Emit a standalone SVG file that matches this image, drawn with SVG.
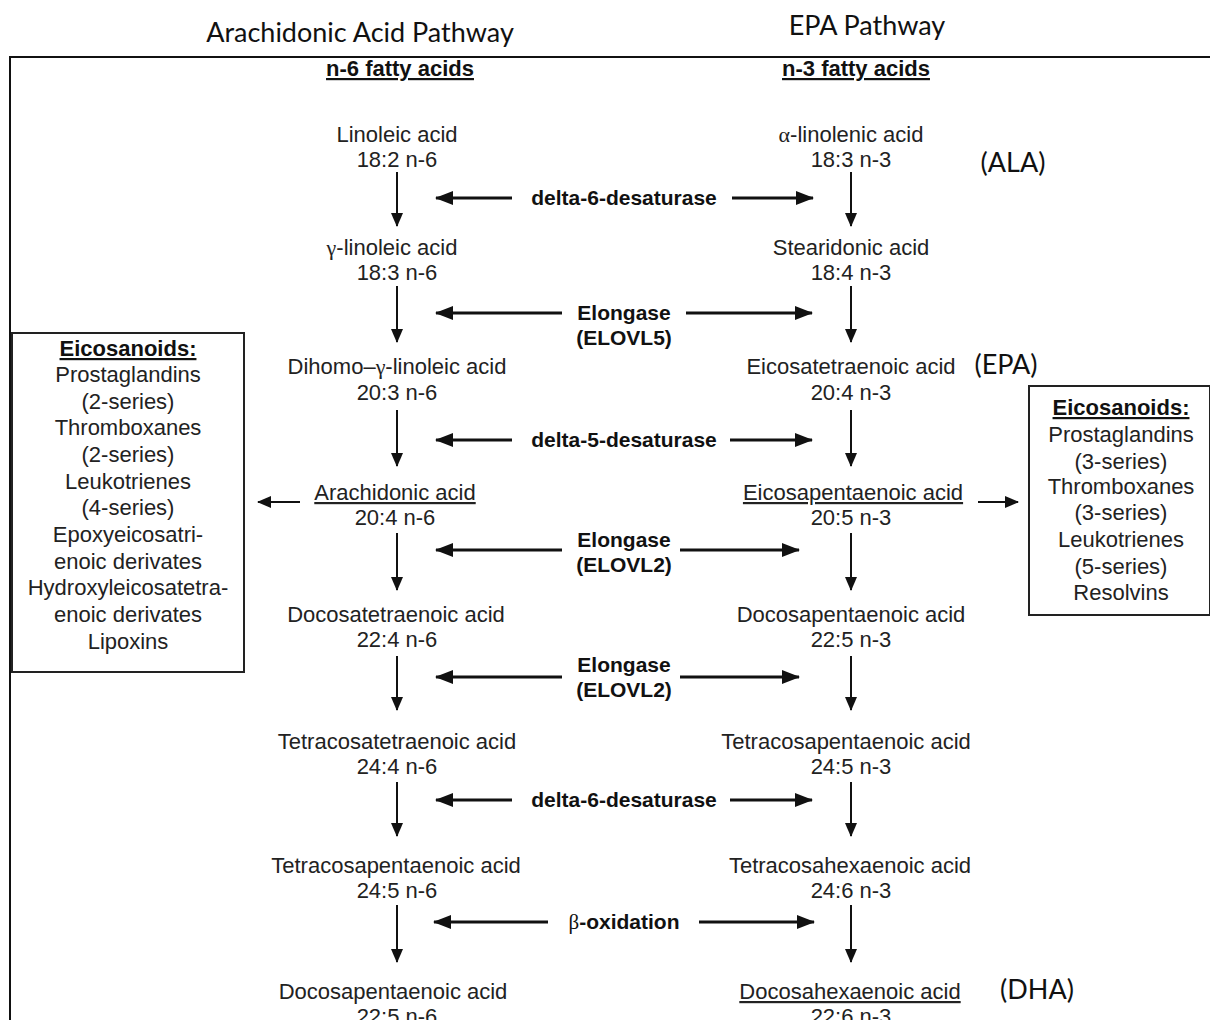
<svg xmlns="http://www.w3.org/2000/svg" width="1210" height="1020" viewBox="0 0 1210 1020">
<style>
.t{font-family:"Liberation Sans",Arial,sans-serif;font-size:22px;fill:#222;text-anchor:middle}
.x{font-family:"Liberation Sans",Arial,sans-serif;font-size:22px;fill:#222;text-anchor:middle}
.b{font-family:"Liberation Sans",Arial,sans-serif;font-size:21px;font-weight:bold;fill:#111;text-anchor:middle}
.bx{font-family:"Liberation Sans",Arial,sans-serif;font-size:22px;font-weight:bold;fill:#111;text-anchor:middle}
.u{text-decoration:underline}
.h{font-family:Lato,"Open Sans",sans-serif;font-size:27px;fill:#111;text-anchor:middle}
.g{font-family:"Liberation Serif",serif}
.v{stroke:#111;stroke-width:2;fill:none}
.e{stroke:#111;stroke-width:3;fill:none}
.frame{stroke:#111;stroke-width:2;fill:none}
.box{stroke:#222;stroke-width:2;fill:#fff}
</style>
<defs>
<marker id="ah" markerUnits="userSpaceOnUse" markerWidth="14" markerHeight="14" refX="13" refY="6" orient="auto"><path d="M0,0 L14,6 L0,12 z" fill="#111"/></marker>
<marker id="ahb" markerUnits="userSpaceOnUse" markerWidth="18" markerHeight="16" refX="17" refY="7" orient="auto"><path d="M0,0 L18,7 L0,14 z" fill="#111"/></marker>
</defs>
<rect width="1210" height="1020" fill="#fff"/>
<g id="frame">
<path class="frame" d="M10,1020 L10,57 L1210,57"/>
</g>
<g id="titles">
<text class="h" x="360" y="42">Arachidonic Acid Pathway</text>
<text class="h" x="867" y="35">EPA Pathway</text>
<text class="bx u" x="400" y="76">n-6 fatty acids</text>
<text class="bx u" x="856" y="76">n-3 fatty acids</text>
</g>
<g id="n6">
<g id="la"><text class="t" x="397" y="142">Linoleic acid</text><text class="t" x="397" y="167">18:2 n-6</text></g>
<g id="gla"><text class="t" x="392" y="255"><tspan class="g">γ</tspan>-linoleic acid</text><text class="t" x="397" y="280">18:3 n-6</text></g>
<g id="dgla"><text class="t" x="397" y="374">Dihomo–<tspan class="g">γ</tspan>-linoleic acid</text><text class="t" x="397" y="400">20:3 n-6</text></g>
<g id="aa"><text class="t u" x="395" y="500">Arachidonic acid</text><text class="t" x="395" y="525">20:4 n-6</text></g>
<g id="dta"><text class="t" x="396" y="622">Docosatetraenoic acid</text><text class="t" x="397" y="647">22:4 n-6</text></g>
<g id="tta"><text class="t" x="397" y="749">Tetracosatetraenoic acid</text><text class="t" x="397" y="774">24:4 n-6</text></g>
<g id="tpa6"><text class="t" x="396" y="873">Tetracosapentaenoic acid</text><text class="t" x="397" y="898">24:5 n-6</text></g>
<g id="dpa6"><text class="t" x="393" y="999">Docosapentaenoic acid</text><text class="t" x="397" y="1024">22:5 n-6</text></g>
</g>
<g id="n3">
<g id="ala"><text class="t" x="851" y="142"><tspan class="g">α</tspan>-linolenic acid</text><text class="t" x="851" y="167">18:3 n-3</text></g>
<g id="sda"><text class="t" x="851" y="255">Stearidonic acid</text><text class="t" x="851" y="280">18:4 n-3</text></g>
<g id="eta"><text class="t" x="851" y="374">Eicosatetraenoic acid</text><text class="t" x="851" y="400">20:4 n-3</text></g>
<g id="epa"><text class="t u" x="853" y="500">Eicosapentaenoic acid</text><text class="t" x="851" y="525">20:5 n-3</text></g>
<g id="dpa3"><text class="t" x="851" y="622">Docosapentaenoic acid</text><text class="t" x="851" y="647">22:5 n-3</text></g>
<g id="tpa3"><text class="t" x="846" y="749">Tetracosapentaenoic acid</text><text class="t" x="851" y="774">24:5 n-3</text></g>
<g id="tha"><text class="t" x="850" y="873">Tetracosahexaenoic acid</text><text class="t" x="851" y="898">24:6 n-3</text></g>
<g id="dha"><text class="t u" x="850" y="999">Docosahexaenoic acid</text><text class="t" x="851" y="1024">22:6 n-3</text></g>
</g>
<g id="abbrev">
<text class="h" x="1013" y="172">(ALA)</text>
<text class="h" x="1006" y="374">(EPA)</text>
<text class="h" x="1037" y="999">(DHA)</text>
</g>
<g id="enzymes">
<text class="b" x="624" y="205">delta-6-desaturase</text>
<text class="b" x="624" y="320">Elongase</text>
<text class="b" x="624" y="345">(ELOVL5)</text>
<text class="b" x="624" y="447">delta-5-desaturase</text>
<text class="b" x="624" y="547">Elongase</text>
<text class="b" x="624" y="572">(ELOVL2)</text>
<text class="b" x="624" y="672">Elongase</text>
<text class="b" x="624" y="697">(ELOVL2)</text>
<text class="b" x="624" y="807">delta-6-desaturase</text>
<text class="b" x="624" y="929"><tspan class="g" font-weight="normal">β</tspan>-oxidation</text>
</g>
<g id="eico6">
<rect class="box" x="12" y="333" width="232" height="339"/>
<text class="bx u" x="128" y="356">Eicosanoids:</text>
<text class="x" x="128" y="382">Prostaglandins</text>
<text class="x" x="128" y="409">(2-series)</text>
<text class="x" x="128" y="435">Thromboxanes</text>
<text class="x" x="128" y="462">(2-series)</text>
<text class="x" x="128" y="489">Leukotrienes</text>
<text class="x" x="128" y="515">(4-series)</text>
<text class="x" x="128" y="542">Epoxyeicosatri-</text>
<text class="x" x="128" y="569">enoic derivates</text>
<text class="x" x="128" y="595">Hydroxyleicosatetra-</text>
<text class="x" x="128" y="622">enoic derivates</text>
<text class="x" x="128" y="649">Lipoxins</text>
</g>
<g id="eico3">
<rect class="box" x="1029" y="386" width="181" height="229"/>
<text class="bx u" x="1121" y="415">Eicosanoids:</text>
<text class="x" x="1121" y="442">Prostaglandins</text>
<text class="x" x="1121" y="469">(3-series)</text>
<text class="x" x="1121" y="494">Thromboxanes</text>
<text class="x" x="1121" y="520">(3-series)</text>
<text class="x" x="1121" y="547">Leukotrienes</text>
<text class="x" x="1121" y="574">(5-series)</text>
<text class="x" x="1121" y="600">Resolvins</text>
</g>
<g id="connectors">
<line class="v" x1="397" y1="172" x2="397" y2="226" marker-end="url(#ah)"/>
<line class="v" x1="397" y1="286" x2="397" y2="342" marker-end="url(#ah)"/>
<line class="v" x1="397" y1="410" x2="397" y2="466" marker-end="url(#ah)"/>
<line class="v" x1="397" y1="533" x2="397" y2="590" marker-end="url(#ah)"/>
<line class="v" x1="397" y1="656" x2="397" y2="710" marker-end="url(#ah)"/>
<line class="v" x1="397" y1="782" x2="397" y2="836" marker-end="url(#ah)"/>
<line class="v" x1="397" y1="905" x2="397" y2="962" marker-end="url(#ah)"/>
<line class="v" x1="851" y1="172" x2="851" y2="226" marker-end="url(#ah)"/>
<line class="v" x1="851" y1="286" x2="851" y2="342" marker-end="url(#ah)"/>
<line class="v" x1="851" y1="410" x2="851" y2="466" marker-end="url(#ah)"/>
<line class="v" x1="851" y1="533" x2="851" y2="590" marker-end="url(#ah)"/>
<line class="v" x1="851" y1="656" x2="851" y2="710" marker-end="url(#ah)"/>
<line class="v" x1="851" y1="782" x2="851" y2="836" marker-end="url(#ah)"/>
<line class="v" x1="851" y1="905" x2="851" y2="962" marker-end="url(#ah)"/>
<line class="e" x1="512" y1="198" x2="436" y2="198" marker-end="url(#ahb)"/>
<line class="e" x1="732" y1="198" x2="813" y2="198" marker-end="url(#ahb)"/>
<line class="e" x1="562" y1="313" x2="436" y2="313" marker-end="url(#ahb)"/>
<line class="e" x1="686" y1="313" x2="812" y2="313" marker-end="url(#ahb)"/>
<line class="e" x1="512" y1="440" x2="436" y2="440" marker-end="url(#ahb)"/>
<line class="e" x1="730" y1="440" x2="812" y2="440" marker-end="url(#ahb)"/>
<line class="e" x1="562" y1="550" x2="436" y2="550" marker-end="url(#ahb)"/>
<line class="e" x1="680" y1="550" x2="799" y2="550" marker-end="url(#ahb)"/>
<line class="e" x1="562" y1="677" x2="436" y2="677" marker-end="url(#ahb)"/>
<line class="e" x1="680" y1="677" x2="799" y2="677" marker-end="url(#ahb)"/>
<line class="e" x1="512" y1="800" x2="436" y2="800" marker-end="url(#ahb)"/>
<line class="e" x1="730" y1="800" x2="812" y2="800" marker-end="url(#ahb)"/>
<line class="e" x1="548" y1="922" x2="434" y2="922" marker-end="url(#ahb)"/>
<line class="e" x1="699" y1="922" x2="814" y2="922" marker-end="url(#ahb)"/>
<line class="v" x1="300" y1="502" x2="258" y2="502" marker-end="url(#ah)"/>
<line class="v" x1="978" y1="502" x2="1018" y2="502" marker-end="url(#ah)"/>
</g>
</svg>
